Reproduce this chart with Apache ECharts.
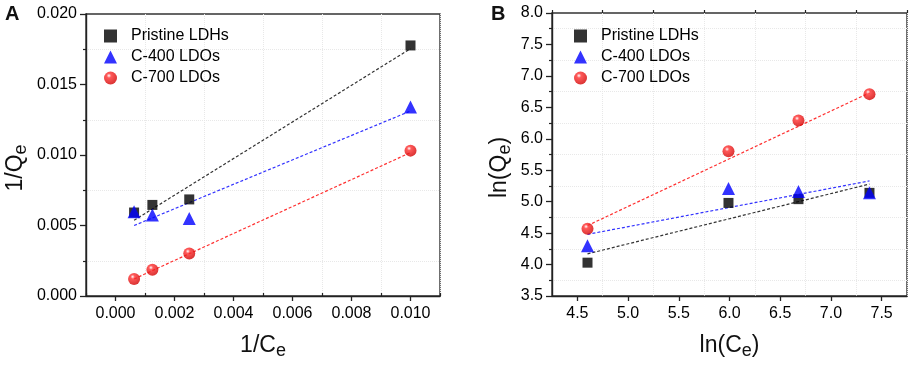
<!DOCTYPE html>
<html>
<head>
<meta charset="utf-8">
<script src="https://cdn.jsdelivr.net/npm/echarts@6/dist/echarts.min.js"></script>
<style>
html,body{margin:0;padding:0;background:#fff;}
#chart{width:913px;height:365px;}
</style>
</head>
<body>
<div id="chart"></div>
<script>
// panel A : 1/Ce vs 1/Qe
var namesA = ['Pristine LDHs', 'C-400 LDOs', 'C-700 LDOs'];
var pristineA = [[0.00063, 0.00592], [0.00125, 0.00646], [0.0025, 0.00685], [0.0100, 0.01777]];
var c400A = [[0.00063, 0.00598], [0.00125, 0.00574], [0.0025, 0.00549], [0.0100, 0.01340]];
var c700A = [[0.00063, 0.00121], [0.00125, 0.00186], [0.0025, 0.00302], [0.0100, 0.01031]];
var fitPristineA = [[0.00063, 0.00537], [0.0100, 0.01754]];
var fitC400A = [[0.00063, 0.00500], [0.0100, 0.01312]];
var fitC700A = [[0.00063, 0.00121], [0.0100, 0.01017]];
var xTicksA = [0.000, 0.002, 0.004, 0.006, 0.008, 0.010];
var xMinorA = [-0.001, 0.001, 0.003, 0.005, 0.007, 0.009, 0.011];

// panel B : ln(Ce) vs ln(Qe)
var pristineB = [[4.60, 4.03], [5.99, 4.98], [6.68, 5.04], [7.38, 5.14]];
var c400B = [[4.60, 4.30], [5.99, 5.21], [6.68, 5.16], [7.38, 5.14]];
var c700B = [[4.60, 4.57], [5.99, 5.80], [6.68, 6.29], [7.38, 6.71]];
var fitPristineB = [[4.60, 4.17], [7.38, 5.28]];
var fitC400B = [[4.60, 4.48], [7.38, 5.33]];
var fitC700B = [[4.60, 4.62], [7.38, 6.73]];
var xTicksB = [4.5, 5.0, 5.5, 6.0, 6.5, 7.0, 7.5];
var xMinorB = [4.25, 4.75, 5.25, 5.75, 6.25, 6.75, 7.25, 7.75];

var FONT = 'Liberation Sans';
var sphere = {
    type: 'radial', x: 0.38, y: 0.32, r: 0.7,
    colorStops: [{offset: 0, color: '#ffffff'}, {offset: 0.25, color: '#ff3030'}, {offset: 1, color: '#d00000'}]
};
var nameRich = {
    m: {fontFamily: FONT, fontSize: 23, color: '#111'},
    s: {fontFamily: FONT, fontSize: 18, color: '#111', padding: [10, 0, 0, 0]}
};

var myChart = echarts.init(document.getElementById('chart'), null, {renderer: 'canvas'});

function mainX(grid, min, max, ticks, dec, title) {
    return {
        type: 'value', gridIndex: grid, min: min, max: max,
        name: title, nameLocation: 'middle', nameGap: 36,
        nameTextStyle: {rich: nameRich},
        axisLine: {show: true, onZero: false, lineStyle: {color: '#222', width: 1.4}},
        axisTick: {show: true, length: 5, customValues: ticks, lineStyle: {color: '#222', width: 1.3}},
        axisLabel: {
            customValues: ticks, color: '#000', fontFamily: FONT, fontSize: 16, margin: 10,
            formatter: function (v) { return v.toFixed(dec); }
        },
        splitLine: {show: false}
    };
}
function minorX(grid, min, max, ticks) {
    return {
        type: 'value', gridIndex: grid, min: min, max: max,
        axisLine: {show: false},
        axisTick: {show: true, length: 3, customValues: ticks, lineStyle: {color: '#222', width: 1.2}},
        axisLabel: {show: false},
        splitLine: {show: true, lineStyle: {color: '#e8e8e8', type: 'dotted', width: 1}}
    };
}
function mainY(grid, min, max, interval, dec, title, gap) {
    return {
        type: 'value', gridIndex: grid, min: min, max: max, interval: interval,
        name: title, nameLocation: 'middle', nameGap: gap,
        nameTextStyle: {rich: nameRich, padding: [0, 26, 0, 0]},
        axisLine: {show: true, onZero: false, lineStyle: {color: '#222', width: 1.4}},
        axisTick: {show: true, length: 6, lineStyle: {color: '#222', width: 1.3}},
        minorTick: {show: true, splitNumber: 2, length: 3, lineStyle: {color: '#222', width: 1.2}},
        minorSplitLine: {show: true, lineStyle: {color: '#e8e8e8', type: 'dotted', width: 1}},
        axisLabel: {
            color: '#000', fontFamily: FONT, fontSize: 16, margin: 9,
            formatter: function (v) { return v.toFixed(dec); }
        },
        splitLine: {show: false}
    };
}
function pts(name, data, xi, yi, symbol, size, color) {
    return {
        name: name, type: 'scatter', xAxisIndex: xi, yAxisIndex: yi,
        symbol: symbol, symbolSize: size, data: data, z: 5,
        itemStyle: {color: color}
    };
}
function fit(name, data, xi, yi, color) {
    return {
        name: name, type: 'line', xAxisIndex: xi, yAxisIndex: yi, data: data,
        symbol: 'none', silent: true, z: 3,
        lineStyle: {color: color, width: 1.2, type: [3, 2]}
    };
}
function legendAt(left) {
    return {
        data: namesA, orient: 'vertical', left: left, top: 23, itemGap: 5,
        itemWidth: 13, itemHeight: 13, selectedMode: false,
        textStyle: {fontFamily: FONT, fontSize: 16, color: '#000', padding: [0, 0, 0, 9]}
    };
}

var option = {
    backgroundColor: '#fff',
    animation: false,
    title: [
        {text: 'A', left: 0, top: -1, textStyle: {fontFamily: FONT, fontSize: 20, fontWeight: 'bold', color: '#111'}},
        {text: 'B', left: 486, top: -1, textStyle: {fontFamily: FONT, fontSize: 20, fontWeight: 'bold', color: '#111'}}
    ],
    grid: [
        {left: 86, top: 14, width: 354, height: 287, show: true, borderColor: '#333', borderWidth: 1.4, backgroundColor: 'transparent'},
        {left: 552, top: 13, width: 355, height: 288, show: true, borderColor: '#333', borderWidth: 1.4, backgroundColor: 'transparent'}
    ],
    legend: [legendAt(99), legendAt(569)],
    xAxis: [
        mainX(0, -0.001, 0.011, xTicksA, 3, '{m|1/C}{s|e}'),
        mainX(1, 4.25, 7.75, xTicksB, 1, '{m|ln(C}{s|e}{m|)}'),
        minorX(0, -0.001, 0.011, xMinorA),
        minorX(1, 4.25, 7.75, xMinorB)
    ],
    yAxis: [
        mainY(0, 0, 0.020, 0.005, 3, '{m|1/Q}{s|e}', 56),
        mainY(1, 3.5, 8.0, 0.5, 1, '{m|ln(Q}{s|e}{m|)}', 38)
    ],
    series: [
        fit('fitA1', fitPristineA, 0, 0, '#333333'),
        fit('fitA2', fitC400A, 0, 0, '#3333ff'),
        fit('fitA3', fitC700A, 0, 0, '#ff3030'),
        pts(namesA[0], pristineA, 0, 0, 'rect', 10, '#000'),
        pts(namesA[1], c400A, 0, 0, 'triangle', 13, '#0000ff'),
        pts(namesA[2], c700A, 0, 0, 'circle', 12, sphere),
        fit('fitB1', fitPristineB, 1, 1, '#333333'),
        fit('fitB2', fitC400B, 1, 1, '#3333ff'),
        fit('fitB3', fitC700B, 1, 1, '#ff3030'),
        pts(namesA[0], pristineB, 1, 1, 'rect', 10, '#000'),
        pts(namesA[1], c400B, 1, 1, 'triangle', 13, '#0000ff'),
        pts(namesA[2], c700B, 1, 1, 'circle', 12, sphere)
    ]
};
myChart.setOption(option);
</script>
</body>
</html>
